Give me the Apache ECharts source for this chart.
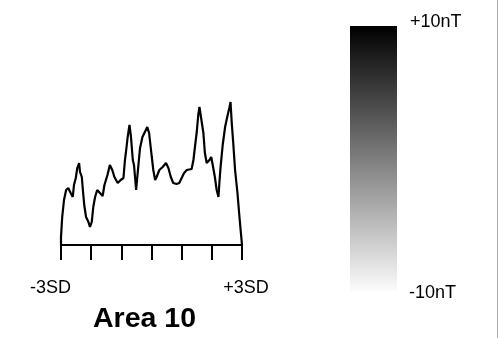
<!DOCTYPE html>
<html>
<head>
<meta charset="utf-8">
<script src="https://cdn.jsdelivr.net/npm/echarts@6/dist/echarts.min.js"></script>
<style>
html,body{margin:0;padding:0;background:#fff;}
#chart{width:499px;height:338px;}
</style>
</head>
<body>
<div id="chart"></div>
<script>
// Position along the profile, in standard deviations (-3SD .. +3SD)
var sdPositions = [-3.00,-3.00,-2.96,-2.90,-2.83,-2.76,-2.68,-2.61,-2.57,-2.51,-2.46,-2.40,-2.37,-2.31,-2.28,-2.23,-2.17,-2.09,-2.04,-1.98,-1.93,-1.87,-1.80,-1.71,-1.62,-1.56,-1.46,-1.38,-1.30,-1.23,-1.12,-1.02,-0.93,-0.88,-0.85,-0.79,-0.73,-0.68,-0.62,-0.58,-0.51,-0.47,-0.44,-0.38,-0.30,-0.22,-0.14,-0.08,0.01,0.06,0.12,0.17,0.26,0.37,0.48,0.56,0.64,0.72,0.83,0.92,1.00,1.08,1.17,1.33,1.39,1.44,1.50,1.55,1.59,1.64,1.72,1.77,1.83,1.92,1.98,2.03,2.10,2.16,2.22,2.25,2.29,2.36,2.44,2.51,2.58,2.62,2.66,2.71,2.77,2.85,2.91,2.97,3.00];
// Profile amplitude (arbitrary units above baseline)
var profileValues = [0,8,28,45,55,57,52,48,60,67,77,82,73,68,57,40,28,23,18,23,38,48,55,52,49,60,70,80,75,68,62,65,67,85,92,108,120,108,85,80,55,68,78,97,108,113,118,112,88,75,65,68,75,78,82,77,68,62,61,62,67,72,75,76,85,98,113,130,138,128,112,92,82,85,88,80,68,55,48,62,78,100,118,128,137,143,122,102,75,52,30,10,0];
var xTicks = [-3,-2,-1,0,1,2,3];
var endLabels = {'-3':'-3SD','3':'+3SD'};
var titleText = 'Area 10';
var scaleLabels = ['+10nT','-10nT'];

var FONT = '"Liberation Sans", Arial, sans-serif';
var chart = echarts.init(document.getElementById('chart'), null, {renderer:'canvas'});
var lineData = sdPositions.map(function(x,i){return [x, profileValues[i]];});

chart.setOption({
  animation:false,
  backgroundColor:'#ffffff',
  title:{
    text:titleText,
    left:93, top:305, padding:0,
    textStyle:{fontFamily:FONT,fontSize:28.5,fontWeight:'bold',color:'#000'}
  },
  grid:{left:61, top:95, width:181, height:150, containLabel:false},
  xAxis:{
    type:'value', min:xTicks[0], max:xTicks[xTicks.length-1], interval:1,
    splitLine:{show:false},
    axisLine:{show:true,onZero:false,lineStyle:{color:'#000',width:2}},
    axisTick:{show:true,length:15,lineStyle:{color:'#000',width:2}},
    axisLabel:{
      show:true, margin:34, fontFamily:FONT, fontSize:18, color:'#000',
      showMinLabel:true, showMaxLabel:true,
      formatter:function(v){
        var k=String(Math.round(v));
        if(k==='-3') return '{l|'+endLabels[k]+'}';
        if(k==='3') return '{r|'+endLabels[k]+'}';
        return '';
      },
      rich:{
        l:{fontFamily:FONT,fontSize:18,color:'#000',padding:[0,21,0,0]},
        r:{fontFamily:FONT,fontSize:18,color:'#000',padding:[0,0,0,8]}
      }
    }
  },
  yAxis:{type:'value',min:0,max:150,show:false,splitLine:{show:false}},
  series:[{
    type:'line', data:lineData, showSymbol:false, symbol:'none',
    lineStyle:{color:'#000',width:2.2}, smooth:false
  }],
  graphic:[
    {type:'rect', shape:{x:350,y:26,width:47,height:265}, silent:true,
     style:{fill:new echarts.graphic.LinearGradient(0,0,0,1,[{offset:0,color:'#000000'},{offset:1,color:'#fbfbfb'}])}},
    {type:'text', left:410, top:13, silent:true,
     style:{text:scaleLabels[0],font:'18px '+FONT,fill:'#000'}},
    {type:'text', left:409, top:284, silent:true,
     style:{text:scaleLabels[1],font:'18px '+FONT,fill:'#000'}},
    {type:'line', shape:{x1:497.5,y1:0,x2:497.5,y2:338}, silent:true,
     style:{stroke:'#aaaaaa',lineWidth:1}}
  ]
});
</script>
</body>
</html>
